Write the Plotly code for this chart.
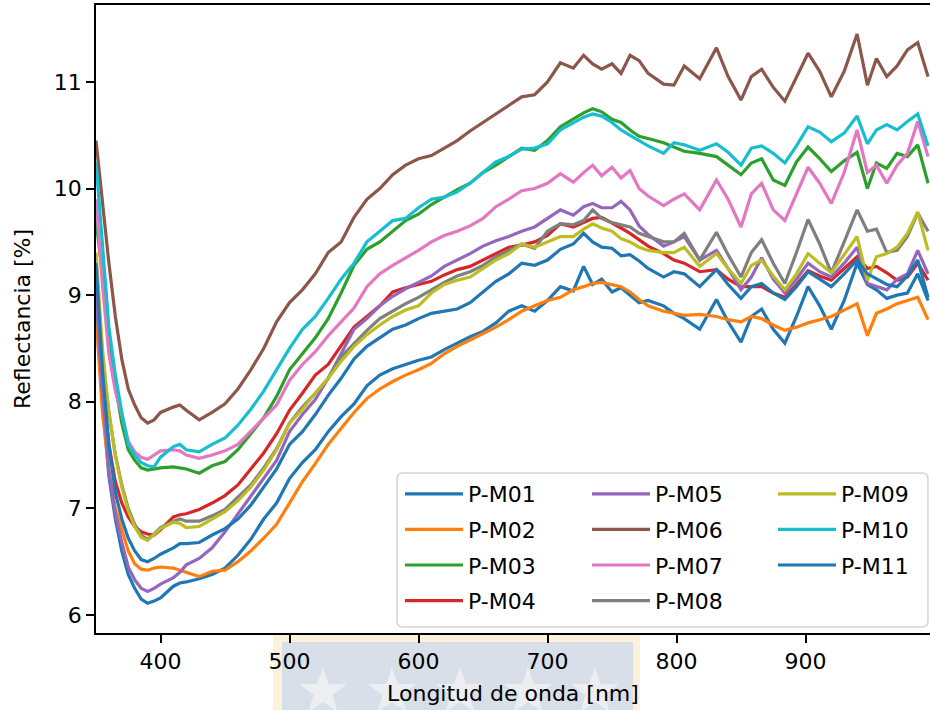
import math
import plotly.graph_objects as go

# ---------------- data ----------------
WAVELENGTH = [350, 355, 360, 365, 370, 375, 380, 385, 390, 395, 400,
              410, 415, 420, 430, 440, 450, 460, 470, 480, 490, 500,
              510, 520, 530, 540, 550, 560, 570, 580, 590, 600,
              610, 620, 630, 640, 650, 660, 670, 680, 690, 700,
              710, 720, 728, 735, 742, 750, 757, 764, 771, 778,
              790, 798, 806, 818, 831, 840, 850, 858, 866, 875, 884, 893,
              902, 911, 920, 930, 940, 948, 955, 963, 971, 979, 987, 995]

P_M01 = [9.0, 8.0, 7.3, 6.9, 6.6, 6.38, 6.25, 6.15, 6.11, 6.13, 6.16,
         6.27, 6.3, 6.31, 6.34, 6.38, 6.44, 6.56, 6.71, 6.9, 7.05, 7.28,
         7.43, 7.55, 7.72, 7.86, 7.98, 8.15, 8.25, 8.31, 8.35, 8.39,
         8.42, 8.49, 8.55, 8.61, 8.66, 8.74, 8.85, 8.9, 8.85, 8.95,
         9.08, 9.04, 9.27, 9.1, 9.15, 9.03, 9.07, 9.0, 8.93, 8.95,
         8.9, 8.83, 8.78, 8.68, 8.96, 8.75, 8.56, 8.8, 8.87, 8.68, 8.55, 8.8,
         9.08, 8.9, 8.68, 8.95, 9.3, 9.1, 9.05, 8.97, 9.0, 9.02, 9.2, 8.95]

P_M02 = [8.8, 7.9, 7.35, 7.0, 6.8, 6.6, 6.48, 6.43, 6.42, 6.44, 6.45,
         6.44, 6.42, 6.4, 6.36, 6.41, 6.42, 6.5, 6.6, 6.72, 6.85, 7.05,
         7.25, 7.42, 7.6, 7.75, 7.9, 8.03, 8.12, 8.19, 8.25, 8.3,
         8.36, 8.45, 8.52, 8.58, 8.64, 8.7, 8.77, 8.85, 8.9, 8.95,
         8.98, 9.05, 9.08, 9.11, 9.12, 9.1, 9.08, 9.03, 8.96, 8.9,
         8.85, 8.83, 8.81, 8.82, 8.8, 8.77, 8.75, 8.8, 8.78, 8.72, 8.67, 8.7,
         8.74, 8.77, 8.8, 8.86, 8.92, 8.62, 8.83, 8.87, 8.92, 8.95, 8.98, 8.77]

P_M03 = [9.7, 9.2, 8.6, 8.15, 7.8, 7.55, 7.45, 7.38, 7.36, 7.37, 7.38,
         7.39, 7.38, 7.37, 7.33, 7.4, 7.44, 7.55, 7.7, 7.85, 8.05, 8.3,
         8.45, 8.6, 8.78, 9.02, 9.28, 9.43, 9.5, 9.6, 9.7, 9.76,
         9.85, 9.92, 9.99, 10.05, 10.15, 10.22, 10.3, 10.38, 10.36, 10.45,
         10.58, 10.65, 10.71, 10.75, 10.72, 10.65, 10.62, 10.55, 10.49, 10.47,
         10.43, 10.39, 10.35, 10.33, 10.3, 10.22, 10.13, 10.24, 10.28, 10.08, 10.03, 10.25,
         10.39, 10.28, 10.16, 10.26, 10.34, 10.0, 10.24, 10.19, 10.33, 10.3, 10.41, 10.05]

P_M04 = [9.2, 8.1, 7.6, 7.25, 7.05, 6.92, 6.83, 6.78, 6.76, 6.75, 6.8,
         6.92, 6.94, 6.95, 6.99, 7.05, 7.12, 7.22, 7.37, 7.52, 7.7, 7.92,
         8.08, 8.25, 8.35, 8.53, 8.7, 8.8, 8.9, 9.03, 9.07, 9.1,
         9.13, 9.19, 9.24, 9.27, 9.33, 9.39, 9.45, 9.47, 9.5, 9.56,
         9.67, 9.64, 9.68, 9.72, 9.73, 9.68, 9.63, 9.58, 9.52, 9.46,
         9.39, 9.33, 9.3, 9.22, 9.24, 9.15, 9.08, 9.08, 9.08, 9.02, 8.98, 9.1,
         9.23, 9.18, 9.14, 9.25, 9.36, 9.25, 9.27, 9.21, 9.14, 9.17, 9.3, 9.14]

P_M05 = [9.0, 8.1, 7.35, 6.95, 6.68, 6.45, 6.33, 6.25, 6.22, 6.25, 6.29,
         6.35, 6.4, 6.47, 6.53, 6.63, 6.78, 6.95, 7.12, 7.28, 7.45, 7.72,
         7.88, 8.02, 8.22, 8.45, 8.68, 8.78, 8.9, 8.99, 9.06, 9.12,
         9.18, 9.27, 9.33, 9.39, 9.46, 9.51, 9.55, 9.6, 9.64, 9.72,
         9.8, 9.75, 9.83, 9.86, 9.82, 9.82, 9.88, 9.8, 9.65, 9.57,
         9.46, 9.5, 9.55, 9.33, 9.42, 9.25, 9.05, 9.17, 9.35, 9.15, 9.02, 9.15,
         9.3, 9.22, 9.17, 9.3, 9.45, 9.11, 9.08, 9.05, 9.15, 9.2, 9.42, 9.2]

P_M06 = [10.45, 9.85, 9.3, 8.8, 8.4, 8.12, 7.97, 7.85, 7.8, 7.83, 7.9,
         7.95, 7.97, 7.92, 7.83, 7.9, 7.98, 8.12, 8.3, 8.5, 8.75, 8.93,
         9.05, 9.2, 9.4, 9.5, 9.73, 9.9, 10.0, 10.13, 10.22, 10.28,
         10.31, 10.38, 10.45, 10.54, 10.62, 10.7, 10.78, 10.86, 10.88, 11.0,
         11.18, 11.13, 11.25, 11.17, 11.12, 11.17, 11.08, 11.25, 11.2, 11.08,
         10.98, 10.97, 11.15, 11.03, 11.32, 11.05, 10.83, 11.05, 11.12, 10.95, 10.82, 11.05,
         11.27, 11.1, 10.86, 11.1, 11.45, 10.97, 11.22, 11.05, 11.15, 11.3, 11.37, 11.05]

P_M07 = [9.9, 9.1, 8.45, 8.1, 7.88, 7.63, 7.53, 7.48, 7.46, 7.5, 7.54,
         7.55, 7.54, 7.5, 7.47, 7.5, 7.54, 7.6, 7.72, 7.85, 7.97, 8.2,
         8.35, 8.47, 8.62, 8.75, 8.88, 9.08, 9.2, 9.28, 9.35, 9.42,
         9.5, 9.56, 9.6, 9.65, 9.72, 9.83, 9.9, 9.98, 10.0, 10.05,
         10.14, 10.06, 10.15, 10.22, 10.12, 10.2, 10.1, 10.17, 10.0, 9.93,
         9.84, 9.9, 9.95, 9.8, 10.08, 9.9, 9.64, 9.95, 10.05, 9.8, 9.7, 9.95,
         10.2, 10.05, 9.86, 10.15, 10.55, 10.15, 10.22, 10.05, 10.22, 10.33, 10.63, 10.3]

P_M08 = [9.3, 8.4, 7.9, 7.5, 7.22, 7.0, 6.85, 6.75, 6.71, 6.76, 6.82,
         6.88, 6.9, 6.88, 6.88, 6.93, 6.99, 7.1, 7.22, 7.38, 7.56, 7.8,
         7.95, 8.08, 8.22, 8.42, 8.55, 8.67, 8.78, 8.85, 8.92, 8.98,
         9.05, 9.12, 9.18, 9.22, 9.28, 9.36, 9.42, 9.48, 9.44, 9.6,
         9.67, 9.66, 9.7, 9.8, 9.72, 9.68, 9.66, 9.64, 9.58, 9.55,
         9.5, 9.5, 9.58, 9.33, 9.59, 9.38, 9.17, 9.4, 9.52, 9.3, 9.11, 9.4,
         9.71, 9.48, 9.21, 9.5, 9.8, 9.6, 9.62, 9.4, 9.42, 9.55, 9.77, 9.6]

P_M09 = [9.4, 8.5, 7.9, 7.5, 7.2, 6.98, 6.83, 6.73, 6.7, 6.76, 6.81,
         6.87, 6.86, 6.82, 6.83, 6.9, 6.97, 7.07, 7.2, 7.36, 7.55, 7.8,
         7.93, 8.08, 8.22, 8.38, 8.52, 8.63, 8.72, 8.8, 8.86, 8.9,
         9.02, 9.1, 9.14, 9.17, 9.25, 9.33, 9.39, 9.48, 9.45, 9.5,
         9.55, 9.55, 9.62, 9.67, 9.63, 9.6, 9.53, 9.5, 9.45, 9.42,
         9.4, 9.4, 9.45, 9.27, 9.39, 9.25, 9.11, 9.28, 9.33, 9.18, 9.05, 9.2,
         9.39, 9.3, 9.21, 9.38, 9.55, 9.14, 9.36, 9.39, 9.45, 9.58, 9.78, 9.42]

P_M10 = [10.25, 9.5, 8.7, 8.25, 7.9, 7.6, 7.5, 7.43, 7.4, 7.39, 7.48,
         7.58, 7.6, 7.55, 7.53, 7.6, 7.66, 7.78, 7.93, 8.1, 8.3, 8.5,
         8.68, 8.8, 8.97, 9.15, 9.3, 9.5, 9.6, 9.7, 9.72, 9.82,
         9.9, 9.92, 9.97, 10.05, 10.15, 10.25, 10.3, 10.37, 10.38, 10.42,
         10.55, 10.62, 10.67, 10.7, 10.68, 10.62, 10.55, 10.5, 10.45, 10.4,
         10.33, 10.43, 10.41, 10.36, 10.42, 10.34, 10.22, 10.38, 10.4, 10.33, 10.24, 10.4,
         10.58, 10.53, 10.44, 10.52, 10.68, 10.42, 10.55, 10.6, 10.55, 10.63, 10.7, 10.4]

P_M11 = [9.3, 8.3, 7.6, 7.15, 6.9, 6.72, 6.6, 6.52, 6.5, 6.53, 6.57,
         6.63, 6.67, 6.67, 6.68, 6.75, 6.81, 6.9, 7.03, 7.2, 7.37, 7.6,
         7.72, 7.88, 8.06, 8.22, 8.4, 8.52, 8.6, 8.68, 8.72, 8.78,
         8.83, 8.85, 8.87, 8.93, 9.03, 9.13, 9.2, 9.3, 9.28, 9.33,
         9.43, 9.48, 9.58, 9.5, 9.45, 9.44, 9.37, 9.38, 9.32, 9.25,
         9.17, 9.22, 9.2, 9.08, 9.24, 9.1, 8.97, 9.08, 9.11, 9.02, 8.96, 9.08,
         9.22, 9.15, 9.08, 9.2, 9.33, 9.2, 9.15, 9.1, 9.08, 9.18, 9.33, 8.98]

NAMES = ["P-M01", "P-M02", "P-M03", "P-M04", "P-M05", "P-M06",
         "P-M07", "P-M08", "P-M09", "P-M10", "P-M11"]
SERIES = [P_M01, P_M02, P_M03, P_M04, P_M05, P_M06,
          P_M07, P_M08, P_M09, P_M10, P_M11]
COLORS = ["#1f77b4", "#ff7f0e", "#2ca02c", "#d62728", "#9467bd", "#8c564b",
          "#e377c2", "#7f7f7f", "#bcbd22", "#17becf", "#1f77b4"]
LEGEND_OF = ["legend"] * 4 + ["legend2"] * 4 + ["legend3"] * 3

X_TICKS = [400, 500, 600, 700, 800, 900]
Y_TICKS = [6, 7, 8, 9, 10, 11]

# ---------------- geometry helpers (pixels -> paper) ----------------
W, H = 930, 710
ML, MR, MT, MB = 96, 0, 5, 77
PW, PH = W - ML - MR, H - MT - MB


def px(xp):
    return (xp - ML) / PW


def py(yp):
    return (H - MB - yp) / PH


fig = go.Figure()
for name, ys, col, lg in zip(NAMES, SERIES, COLORS, LEGEND_OF):
    fig.add_trace(go.Scatter(x=WAVELENGTH, y=ys, mode="lines", name=name,
                             line=dict(color=col, width=3.2),
                             legend=lg, legendgroup=name))

FONT = "DejaVu Sans"
legend_common = dict(bgcolor="rgba(0,0,0,0)", borderwidth=0,
                     font=dict(family=FONT, size=22, color="black"),
                     xanchor="left", yanchor="top", itemwidth=58,
                     tracegroupgap=4, traceorder="grouped")

fig.update_layout(
    width=W, height=H,
    margin=dict(l=ML, r=MR, t=MT, b=MB, pad=0),
    paper_bgcolor="white", plot_bgcolor="white",
    font=dict(family=FONT, size=22, color="black"),
    legend=dict(x=px(400), y=py(473), **legend_common),
    legend2=dict(x=px(587), y=py(473), **legend_common),
    legend3=dict(x=px(773), y=py(473), **legend_common),
    xaxis=dict(range=[350, 350 + PW / 1.29], tickvals=X_TICKS,
               ticks="outside", ticklen=8, tickwidth=1.8, tickcolor="black",
               showline=True, linecolor="black", linewidth=1.8, mirror=True,
               showgrid=False, zeroline=False,
               tickfont=dict(family=FONT, size=22, color="black"),
               title=dict(text="Longitud de onda [nm]", standoff=12,
                          font=dict(family=FONT, size=22, color="black"))),
    yaxis=dict(range=[5.831, 11.722], tickvals=Y_TICKS,
               ticks="outside", ticklen=8, tickwidth=1.8, tickcolor="black",
               showline=True, linecolor="black", linewidth=1.8, mirror=False,
               showgrid=False, zeroline=False,
               tickfont=dict(family=FONT, size=22, color="black"),
               title=dict(text="Reflectancia [%]", standoff=17,
                          font=dict(family=FONT, size=22, color="black"))),
)

# ---- watermark (decorative image area under the x label) ----
fig.add_shape(type="rect", xref="paper", yref="paper", layer="below",
              x0=px(273), x1=px(640), y0=py(720), y1=py(635),
              fillcolor="#fcf2dc", line=dict(width=0))
fig.add_shape(type="rect", xref="paper", yref="paper", layer="below",
              x0=px(282), x1=px(633), y0=py(720), y1=py(642),
              fillcolor="#d9dfe8", line=dict(width=0))


def star_path(cx, cy, r_out, r_in):
    pts = []
    for k in range(10):
        ang = -math.pi / 2 + k * math.pi / 5
        r = r_out if k % 2 == 0 else r_in
        pts.append((px(cx + r * math.cos(ang)), py(cy + r * math.sin(ang))))
    return "M" + " L".join(f"{a:.5f},{b:.5f}" for a, b in pts) + " Z"


for cx in [323, 392, 460, 528, 595]:
    fig.add_shape(type="path", xref="paper", yref="paper", layer="below",
                  path=star_path(cx, 692, 25, 10),
                  fillcolor="#eceef2", line=dict(width=0))

# ---- legend frame (rounded) ----
def rounded_rect(x0, y0, x1, y1, r):
    def P(a, b):
        return f"{px(a):.5f},{py(b):.5f}"
    return (f"M{P(x0 + r, y0)} L{P(x1 - r, y0)} Q{P(x1, y0)} {P(x1, y0 + r)} "
            f"L{P(x1, y1 - r)} Q{P(x1, y1)} {P(x1 - r, y1)} "
            f"L{P(x0 + r, y1)} Q{P(x0, y1)} {P(x0, y1 - r)} "
            f"L{P(x0, y0 + r)} Q{P(x0, y0)} {P(x0 + r, y0)} Z")


fig.add_shape(type="path", xref="paper", yref="paper", layer="above",
              path=rounded_rect(397, 473, 928, 627, 6),
              fillcolor="rgba(255,255,255,0.8)",
              line=dict(color="#d5d5d5", width=1.5))

fig.write_html("out.html")
